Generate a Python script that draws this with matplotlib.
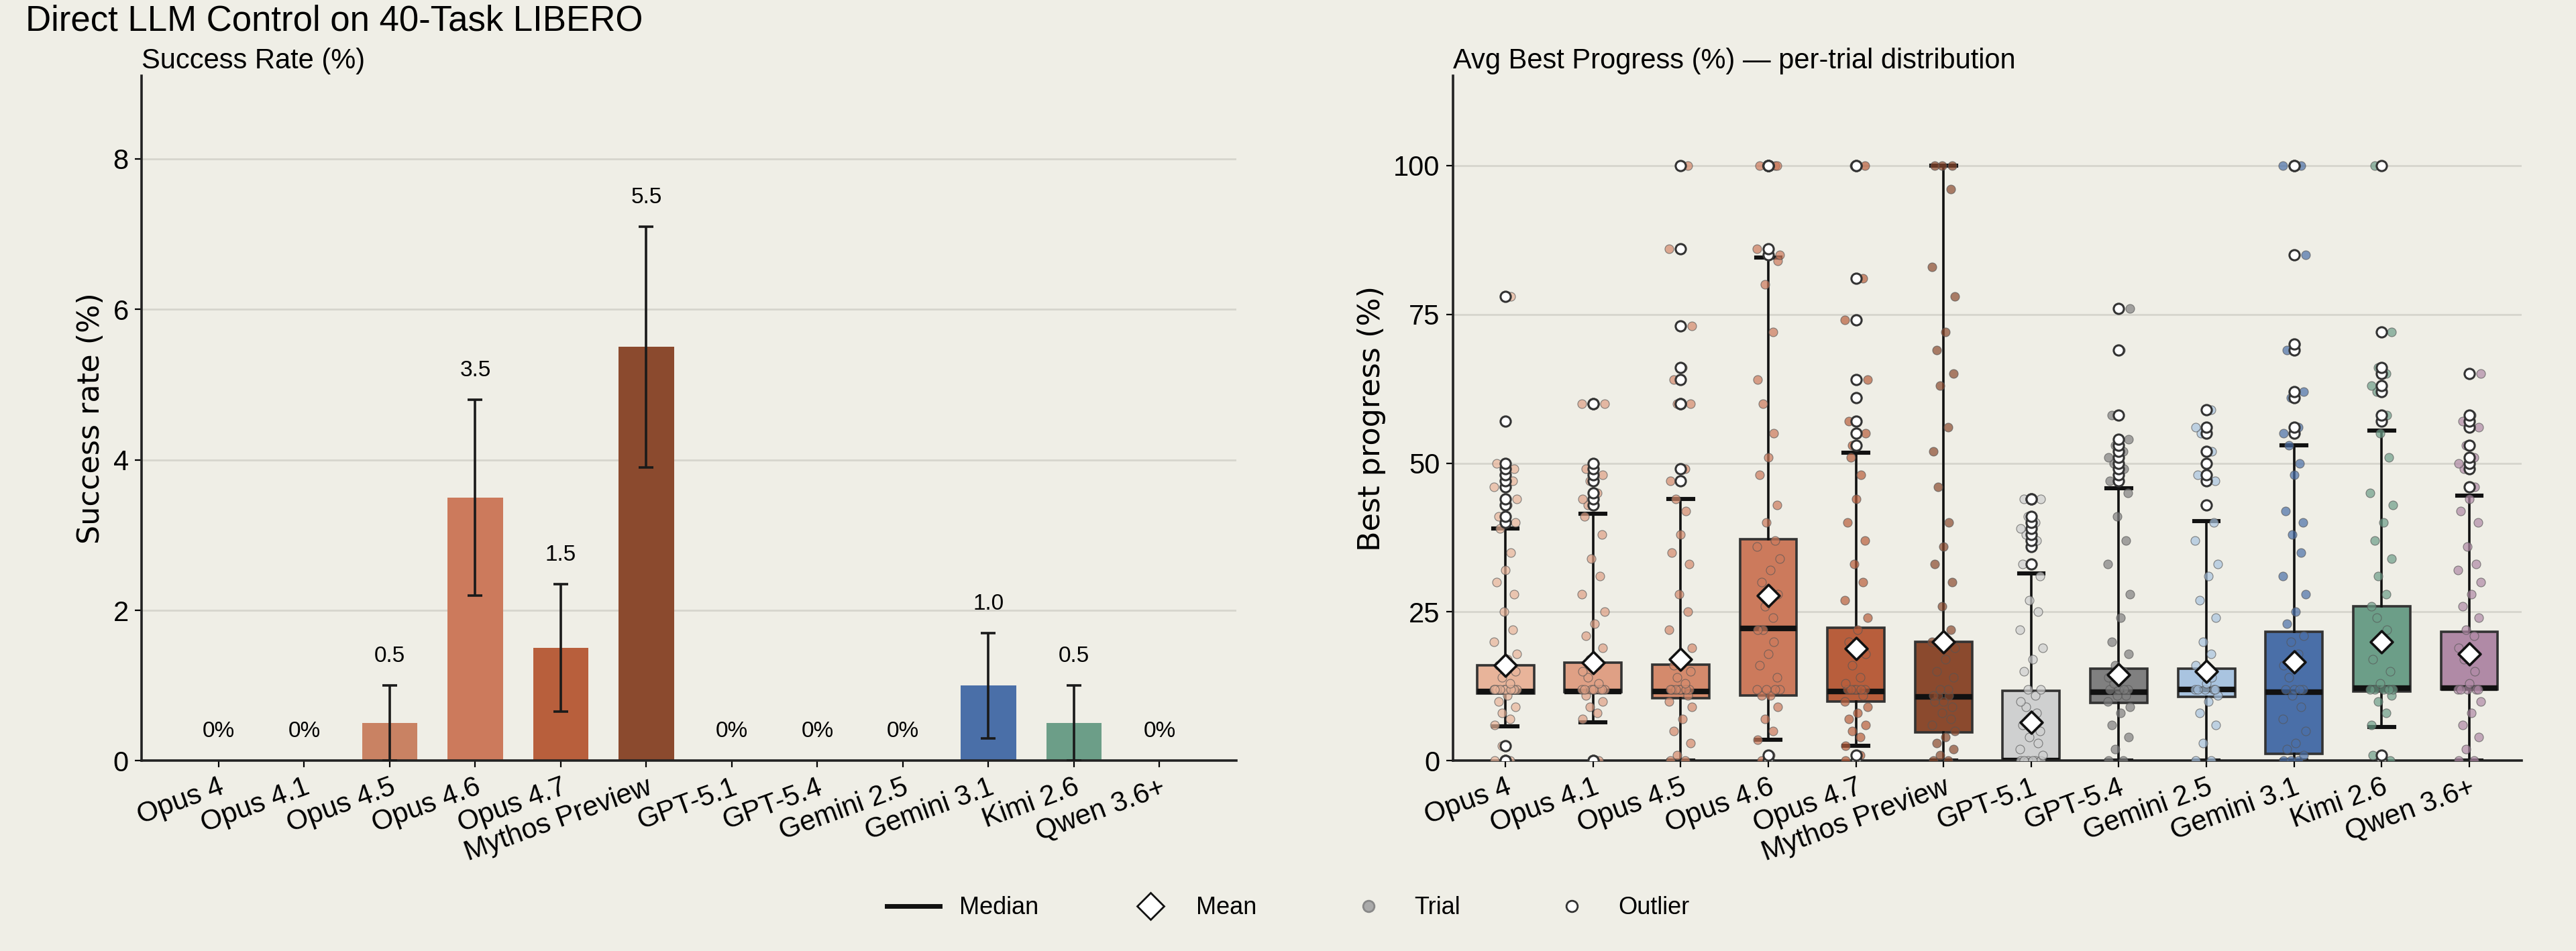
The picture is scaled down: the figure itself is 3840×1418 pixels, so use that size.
import matplotlib.pyplot as plt
from matplotlib.lines import Line2D
import numpy as np

plt.rcParams['font.family'] = ['Liberation Sans Narrow', 'Liberation Sans', 'DejaVu Sans']

models = ['Opus 4', 'Opus 4.1', 'Opus 4.5', 'Opus 4.6', 'Opus 4.7', 'Mythos Preview',
          'GPT-5.1', 'GPT-5.4', 'Gemini 2.5', 'Gemini 3.1', 'Kimi 2.6', 'Qwen 3.6+']
colors = ['#e8b49a', '#dfa085', '#d48a6c', '#cc7a5c', '#b85e3c', '#8b4a2e',
          '#cfd0d0', '#808080', '#a9c4e0', '#4a6fa8', '#6c9e88', '#b08aa6']
bar_colors = ['#e8b49a', '#dfa085', '#c98263', '#cc7a5c', '#b85f3c', '#8b4a2e',
              '#cfd0d0', '#808080', '#a9c4e0', '#4a6fa8', '#6c9e88', '#b08aa6']

success = [0, 0, 0.5, 3.5, 1.5, 5.5, 0, 0, 0, 1.0, 0.5, 0]
err_lo = [0, 0, 0.0, 2.2, 0.65, 3.9, 0, 0, 0, 0.3, 0.0, 0]
err_hi = [0, 0, 1.0, 4.8, 2.35, 7.1, 0, 0, 0, 1.7, 1.0, 0]

# box stats
q1 = [11.3, 11.5, 10.5, 11.0, 10.0, 4.8, 0.0, 9.7, 10.7, 1.2, 11.7, 12.0]
med = [11.7, 11.7, 11.7, 22.2, 11.6, 10.7, 0.0, 11.5, 12.0, 11.5, 12.2, 12.2]
q3 = [16.0, 16.5, 16.2, 37.2, 22.3, 20.0, 11.8, 15.5, 15.5, 21.7, 26.0, 21.7]
wlo = [5.8, 6.5, 0.0, 3.5, 2.5, 0.0, 0.0, 0.0, 0.0, 0.0, 5.7, 0.0]
whi = [39.0, 41.5, 44.0, 84.5, 51.8, 100.0, 31.5, 45.8, 40.3, 53.0, 55.5, 44.5]
means = [16.0, 16.5, 17.0, 27.7, 18.8, 20.0, 6.5, 14.5, 15.0, 16.6, 20.0, 18.0]
fliers = [
    [0, 0, 2.5, 40, 41, 43, 44, 46, 47, 48, 49, 50, 57, 78],
    [0, 0, 43, 44, 45, 47, 48, 49, 50, 60, 60],
    [47, 49, 60, 60, 64, 66, 73, 86, 100],
    [0, 1, 85, 86, 100, 100, 100, 100],
    [0, 1, 53, 55, 57, 61, 64, 74, 81, 100, 100],
    [],
    [33, 36, 37, 38, 39, 40, 41, 44, 44],
    [47, 48, 49, 50, 51, 52, 53, 54, 58, 69, 76],
    [43, 47, 48, 50, 52, 55, 56, 59],
    [55, 56, 61, 62, 69, 70, 85, 100, 100],
    [0, 1, 57, 58, 62, 63, 65, 66, 72, 100],
    [46, 49, 50, 51, 53, 56, 57, 58, 65],
]
# trial points inside the whiskers (approximate reading)
inner = [
    [6, 7, 8, 9, 10, 11, 12, 12, 12, 12, 12, 12, 12, 12, 12, 12, 13, 14, 15, 16, 17, 18, 20, 22, 25, 28, 30, 32, 35, 39],
    [7, 8, 9, 10, 11, 12, 12, 12, 12, 12, 12, 12, 12, 13, 14, 15, 16, 17, 19, 21, 23, 25, 28, 31, 34, 38, 41],
    [0, 0, 1, 3, 5, 7, 9, 10, 11, 12, 12, 12, 12, 12, 12, 12, 13, 14, 15, 16, 17, 19, 22, 25, 28, 33, 35, 38, 42, 44],
    [3.5, 5, 7, 9, 11, 11, 12, 12, 12, 12, 14, 16, 18, 20, 22, 22, 24, 26, 28, 30, 32, 34, 36, 37, 40, 43, 48, 51, 55, 60, 64, 72, 80, 84],
    [2.5, 4, 5, 6, 7, 8, 9, 10, 11, 12, 12, 12, 12, 12, 12, 13, 14, 16, 18, 20, 22, 24, 27, 30, 33, 37, 40, 44, 48, 51],
    [0, 0, 1, 2, 3, 4, 5, 6, 7, 8, 9, 10, 10, 11, 11, 11, 12, 12, 14, 15, 17, 19, 20, 22, 26, 30, 33, 36, 40, 46, 52, 56, 63, 65, 69, 72, 78, 83, 96, 100, 100, 100],
    [0, 0, 0, 0, 0, 0, 1, 2, 3, 4, 5, 6, 7, 8, 9, 10, 11, 12, 12, 15, 17, 19, 22, 25, 27, 31],
    [0, 0, 2, 4, 6, 8, 9, 10, 11, 11, 12, 12, 12, 12, 13, 14, 15, 16, 18, 20, 24, 28, 33, 37, 41, 45],
    [0, 0, 3, 6, 8, 10, 11, 12, 12, 12, 12, 12, 13, 14, 15, 16, 18, 20, 24, 27, 31, 33, 37, 40],
    [0, 0, 0, 1, 2, 3, 5, 7, 9, 11, 12, 12, 12, 12, 14, 16, 18, 20, 21, 23, 25, 28, 31, 35, 38, 40, 42, 48, 50, 53],
    [6, 8, 10, 11, 12, 12, 12, 12, 12, 13, 15, 17, 20, 22, 24, 26, 28, 31, 34, 37, 40, 43, 45, 51, 55],
    [0, 0, 2, 4, 6, 8, 10, 12, 12, 12, 12, 12, 13, 15, 17, 19, 21, 22, 24, 26, 28, 30, 32, 33, 36, 40, 42, 44],
]

bg = '#efeee6'
fig = plt.figure(figsize=(19.2, 7.09), dpi=200, facecolor=bg)
ax1 = fig.add_axes([0.055, 0.20, 0.425, 0.72], facecolor=bg)
ax2 = fig.add_axes([0.564, 0.20, 0.415, 0.72], facecolor=bg)

x = np.arange(len(models))

# --- left: success rate bars
ax1.bar(x, success, width=0.65, color=bar_colors, zorder=2)
for i in range(len(models)):
    if success[i] > 0:
        ax1.errorbar(x[i], success[i], yerr=[[success[i] - err_lo[i]], [err_hi[i] - success[i]]],
                     color='#1a1a1a', capsize=4, lw=1.3, capthick=1.3, zorder=3)
        ax1.text(x[i], err_hi[i] + 0.25, f'{success[i]:.1f}', ha='center', va='bottom', fontsize=12)
    else:
        ax1.text(x[i], 0.25, '0%', ha='center', va='bottom', fontsize=12)
ax1.set_ylim(0, 9.1)
ax1.set_xlim(-0.9, 11.9)
ax1.set_yticks([0, 2, 4, 6, 8])
ax1.set_ylabel('Success rate (%)', fontsize=16, family=['DejaVu Sans'])
ax1.set_title('Success Rate (%)', loc='left', fontsize=15, pad=4)

# --- right: per-trial distribution
stats = []
for i in range(len(models)):
    stats.append(dict(med=med[i], q1=q1[i], q3=q3[i], whislo=wlo[i], whishi=whi[i],
                      fliers=fliers[i], mean=means[i]))
bp = ax2.bxp(stats, positions=x, widths=0.65, patch_artist=True, showfliers=False,
             showmeans=False, zorder=2,
             medianprops=dict(color='#111111', lw=3),
             whiskerprops=dict(color='#111111', lw=1.3),
             capprops=dict(color='#111111', lw=2.2),
             boxprops=dict(edgecolor='#333333', lw=1.3))
for patch, c in zip(bp['boxes'], colors):
    patch.set_facecolor(c)
for cap in bp['caps']:
    xd = cap.get_xdata()
    m = xd.mean()
    cap.set_xdata([m - 0.14, m + 0.14])

offsets = np.array([-0.12, 0.05, -0.04, 0.11, -0.08, 0.02, 0.13, -0.13, 0.08, -0.02, 0.1, -0.1, 0.0, 0.06, -0.06])
for i in range(len(models)):
    pts = np.array(inner[i] + fliers[i], dtype=float)
    jit = offsets[np.arange(len(pts)) % len(offsets)]
    ax2.scatter(x[i] + jit, pts, s=22, color=colors[i], edgecolor='#555555', lw=0.4, alpha=0.7, zorder=3)
    if fliers[i]:
        ax2.scatter(np.full(len(fliers[i]), x[i]), fliers[i], s=30, facecolor='white',
                    edgecolor='#333333', lw=1.1, zorder=4)
    ax2.scatter(x[i], means[i], marker='D', s=70, facecolor='white', edgecolor='#111111', lw=1.3, zorder=5)

ax2.set_ylim(0, 115)
ax2.set_xlim(-0.6, 11.6)
ax2.set_yticks([0, 25, 50, 75, 100])
ax2.set_ylabel('Best progress (%)', fontsize=16, family=['DejaVu Sans'])
ax2.set_title('Avg Best Progress (%) \u2014 per-trial distribution', loc='left', fontsize=15, pad=4)

for ax in (ax1, ax2):
    ax.set_xticks(x)
    ax.set_xticklabels(models, rotation=20, ha='right', rotation_mode='anchor', fontsize=15)
    ax.tick_params(axis='y', labelsize=15)
    ax.grid(axis='y', color='#d6d5cd', lw=1, zorder=0)
    ax.set_axisbelow(True)
    for s in ('top', 'right'):
        ax.spines[s].set_visible(False)
    for s in ('left', 'bottom'):
        ax.spines[s].set_color('#222222')
        ax.spines[s].set_linewidth(1.3)

fig.text(0.01, 0.978, 'Direct LLM Control on 40-Task LIBERO', fontsize=19, ha='left', va='center')

handles = [
    Line2D([], [], color='#111111', lw=2.5, label='Median'),
    Line2D([], [], marker='D', ls='', markersize=10, markerfacecolor='white', markeredgecolor='#111111', label='Mean'),
    Line2D([], [], marker='o', ls='', markersize=6, markerfacecolor='#aaaaaa', markeredgecolor='#888888', label='Trial'),
    Line2D([], [], marker='o', ls='', markersize=6, markerfacecolor='white', markeredgecolor='#333333', label='Outlier'),
]
fig.legend(handles=handles, loc='lower center', ncol=4, frameon=False, fontsize=13,
           bbox_to_anchor=(0.5, 0.01), columnspacing=3.5, handlelength=2.2)

fig.savefig('out.png', dpi=200, facecolor=bg)
